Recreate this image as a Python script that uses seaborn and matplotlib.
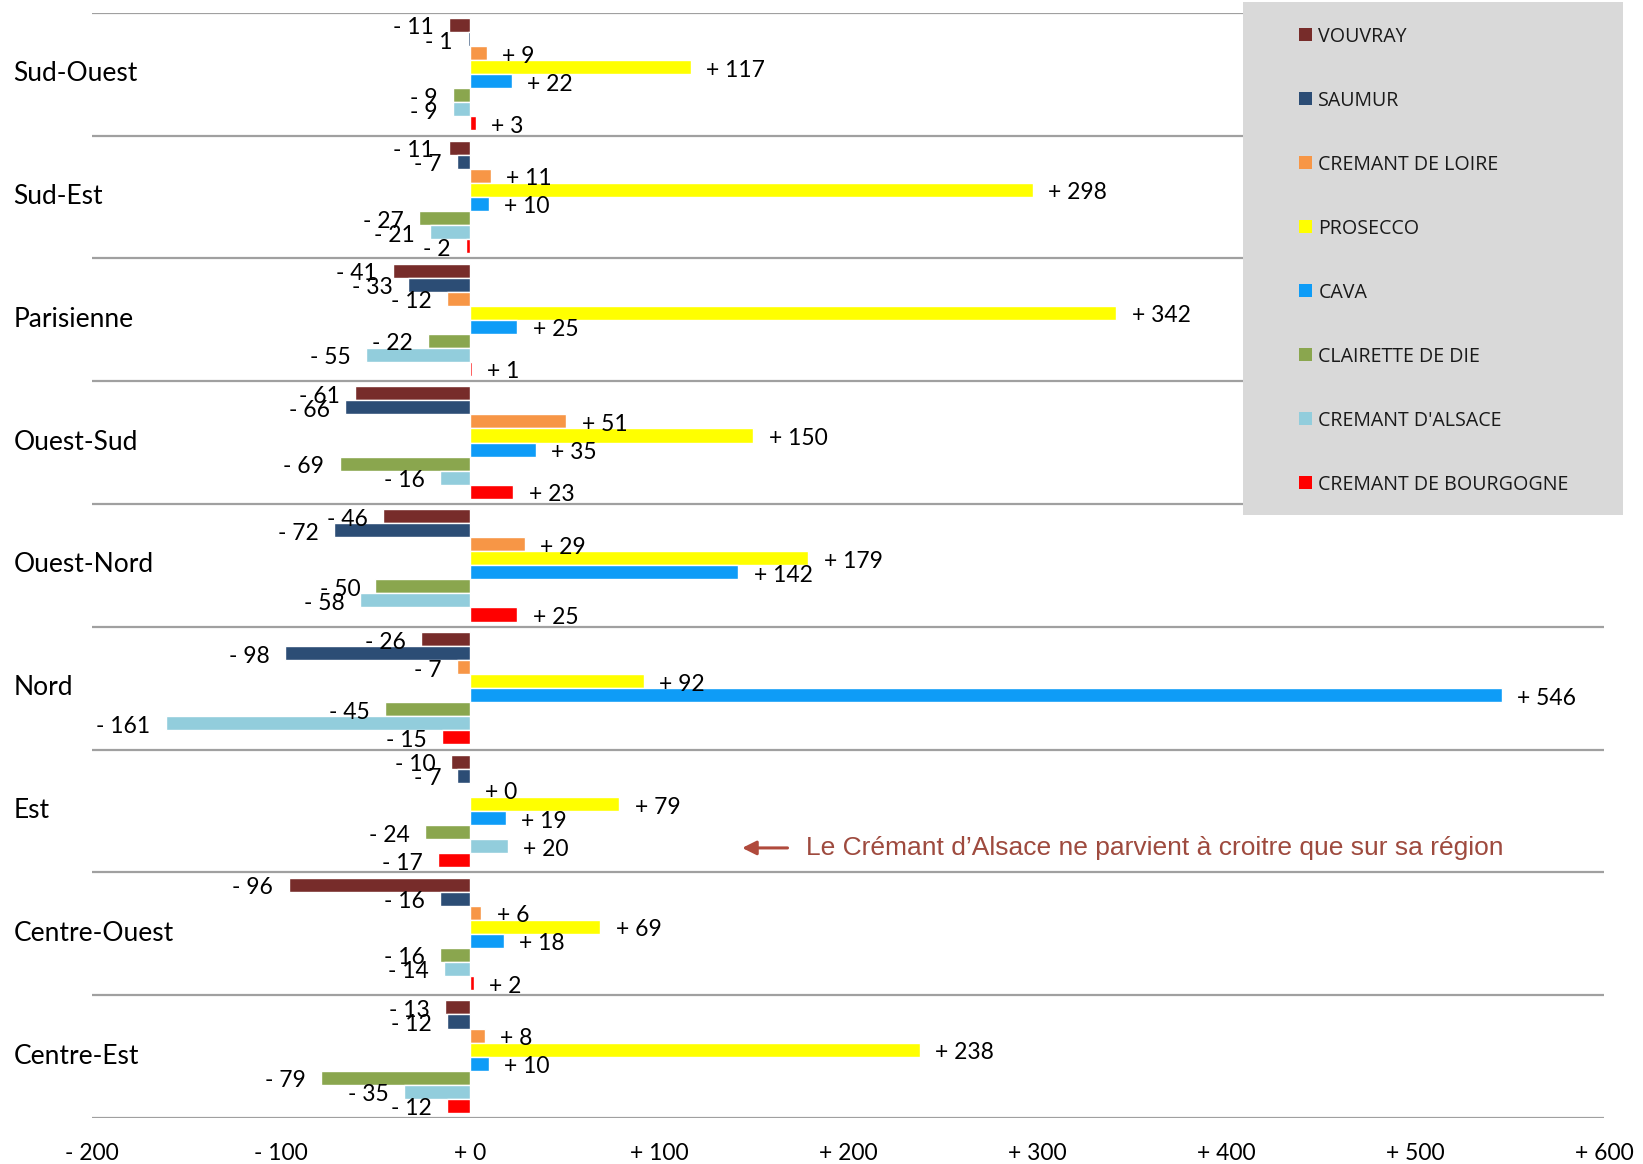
import numpy as np
import pandas as pd
import matplotlib
matplotlib.use("Agg")
import matplotlib.pyplot as plt
import seaborn as sns
from matplotlib.patches import Rectangle, Patch
from matplotlib.ticker import FuncFormatter
from matplotlib.transforms import ScaledTranslation

# ---------------- data ----------------
regions = ["Sud-Ouest", "Sud-Est", "Parisienne", "Ouest-Sud", "Ouest-Nord",
           "Nord", "Est", "Centre-Ouest", "Centre-Est"]
series = ["VOUVRAY", "SAUMUR", "CREMANT DE LOIRE", "PROSECCO", "CAVA",
          "CLAIRETTE DE DIE", "CREMANT D'ALSACE", "CREMANT DE BOURGOGNE"]
vouvray = [-11, -11, -41, -61, -46, -26, -10, -96, -13]
saumur = [-1, -7, -33, -66, -72, -98, -7, -16, -12]
cremant_loire = [9, 11, -12, 51, 29, -7, 0, 6, 8]
prosecco = [117, 298, 342, 150, 179, 92, 79, 69, 238]
cava = [22, 10, 25, 35, 142, 546, 19, 18, 10]
clairette = [-9, -27, -22, -69, -50, -45, -24, -16, -79]
cremant_alsace = [-9, -21, -55, -16, -58, -161, 20, -14, -35]
cremant_bourgogne = [3, -2, 1, 23, 25, -15, -17, 2, -12]
series_values = [vouvray, saumur, cremant_loire, prosecco, cava,
                 clairette, cremant_alsace, cremant_bourgogne]
colors = ["#772C2A", "#2C4D75", "#F79646", "#FFFF00", "#0E9CF7",
          "#8AA64E", "#92CDDC", "#FF0000"]
x_ticks = [-200, -100, 0, 100, 200, 300, 400, 500, 600]
annotation_text = "Le Crémant d\u2019Alsace ne parvient à croitre que sur sa région"

# ---------------- long table ----------------
rows = []
for s, vals in zip(series, series_values):
    for r, v in zip(regions, vals):
        rows.append({"region": r, "series": s, "value": v})
df = pd.DataFrame(rows)

def signed(v):
    v = int(round(v))
    return f"+ {v}" if v >= 0 else f"- {abs(v)}"

# ---------------- figure ----------------
sns.set_theme(style="white")
plt.rcParams["font.family"] = ["Lato", "DejaVu Sans"]

W, H = 1643, 1164
fig = plt.figure(figsize=(W / 100, H / 100), dpi=100)
ax = fig.add_axes([92 / W, 1 - 1118 / H, (1604 - 92) / W, (1118 - 12.7) / H])

bar_width = 0.915
sns.barplot(data=df, y="region", x="value", hue="series", orient="h",
            order=regions, hue_order=series, palette=colors, saturation=1,
            width=bar_width, errorbar=None, legend=False, ax=ax)

ax.set_xlim(x_ticks[0], x_ticks[-1])
ax.set_ylim(len(regions) - 0.5, -0.5)
ax.set_xlabel("")
ax.set_ylabel("")
for sp in ax.spines.values():
    sp.set_visible(False)

# data labels
for cont in ax.containers:
    anns = ax.bar_label(cont, labels=[signed(v) for v in cont.datavalues],
                        padding=11, fontsize=16.5, color="black")
    for a in anns:
        dx, dy = a.xyann
        a.xyann = (dx, dy - 2.2)

# category separators
ax.set_yticks(np.arange(-0.5, len(regions), 1.0), minor=True)
ax.grid(False)
ax.grid(axis="y", which="minor", color="#a0a0a0", linewidth=1.6)
ax.tick_params(axis="y", which="both", length=0)
ax.tick_params(axis="y", which="major", pad=56.5, labelsize=19)
shift = ScaledTranslation(0, 3 / 100, fig.dpi_scale_trans)
for lbl in ax.get_yticklabels():
    lbl.set_horizontalalignment("left")
    lbl.set_color("black")
    lbl.set_transform(lbl.get_transform() + shift)

ax.set_xticks(x_ticks)
ax.xaxis.set_major_formatter(FuncFormatter(lambda v, p: signed(v)))
ax.tick_params(axis="x", length=0, pad=18, labelsize=16.5, labelcolor="black")

# annotation (points at the Alsace bar of the Est group)
n = len(series)
y_ann = regions.index("Est") + (series.index("CREMANT D'ALSACE") - (n - 1) / 2) * bar_width / n
ax.annotate("", xy=(144, y_ann + 0.015), xytext=(168, y_ann + 0.015),
            arrowprops=dict(arrowstyle="-|>,head_length=0.7,head_width=0.35",
                            color="#B04A3C", lw=2.2, shrinkA=0, shrinkB=0))
ax.text(178, y_ann + 0.015, annotation_text, va="center", ha="left",
        color="#9E4A3E", fontsize=19, family=["Liberation Sans", "DejaVu Sans"])

# legend with grey background box
bg = Rectangle((1243 / W, 1 - 515 / H), (1623 - 1243) / W, (515 - 2) / H,
               transform=fig.transFigure, facecolor="#d9d9d9", edgecolor="none",
               zorder=4)
fig.add_artist(bg)
handles = [Patch(facecolor=c, edgecolor="none") for c in colors]
leg = fig.legend(handles, series, loc="upper left",
                 bbox_to_anchor=(1299 / W, 1 - 26.5 / H), frameon=False,
                 borderpad=0, borderaxespad=0, labelspacing=2.24,
                 handlelength=0.66, handleheight=0.66, handletextpad=0.32,
                 prop={"family": ["Open Sans", "DejaVu Sans"], "size": 14.15})
leg.set_zorder(6)
for t in leg.get_texts():
    t.set_color("#1a1a1a")

fig.savefig("out.png", dpi=100, facecolor="white")
